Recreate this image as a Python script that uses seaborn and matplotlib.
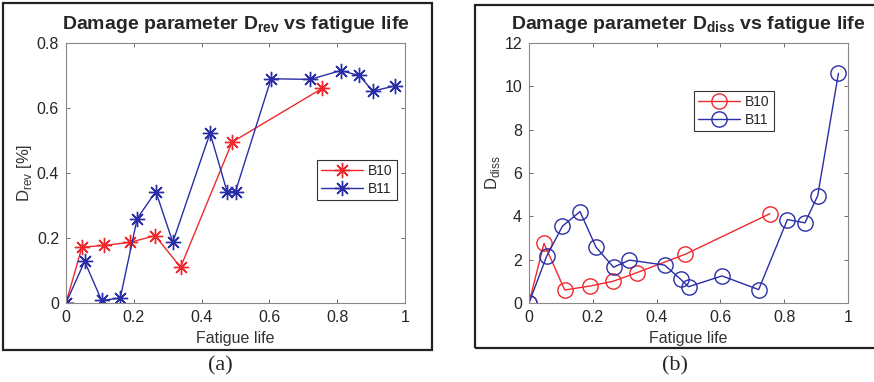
import matplotlib
matplotlib.use("Agg")
import matplotlib.pyplot as plt
import seaborn as sns
from matplotlib.patches import Rectangle
from matplotlib.ticker import FuncFormatter

# fatigue life fractions (same for both panels)
life_b10 = [0, 0.047, 0.112, 0.19, 0.263, 0.338, 0.49, 0.755]
life_b11 = [0, 0.055, 0.105, 0.16, 0.21, 0.265, 0.315, 0.425, 0.475, 0.5,
            0.605, 0.72, 0.81, 0.865, 0.905, 0.97]

d_rev_b10 = [0, 0.172, 0.177, 0.187, 0.207, 0.11, 0.495, 0.66]
d_rev_b11 = [0, 0.128, 0.008, 0.015, 0.26, 0.343, 0.187, 0.523, 0.343, 0.343,
             0.69, 0.688, 0.715, 0.70, 0.652, 0.668]

d_diss_b10 = [0, 2.75, 0.6, 0.78, 1.0, 1.4, 2.25, 4.12]
d_diss_b11 = [0, 2.15, 3.55, 4.22, 2.58, 1.65, 1.98, 1.75, 1.1, 0.75,
              1.25, 0.62, 3.85, 3.7, 4.95, 10.6]

RED = "#f0282c"
BLUE = "#2a2ea6"

sns.set_theme(style="white")
plt.rcParams["font.family"] = ["Liberation Sans", "DejaVu Sans"]
plt.rcParams["mathtext.fontset"] = "custom"
plt.rcParams["mathtext.rm"] = "Liberation Sans"
plt.rcParams["mathtext.bf"] = "Liberation Sans:bold"

fig = plt.figure(figsize=(8.74, 3.82), dpi=100)
ax1 = fig.add_axes([66 / 874, 79 / 382, 339 / 874, 260 / 382])
ax2 = fig.add_axes([529 / 874, 79 / 382, 319 / 874, 260 / 382])

star = (8, 2, 0)
sns.lineplot(x=life_b10, y=d_rev_b10, ax=ax1, color=RED, marker=star, markersize=11,
             markeredgecolor=RED, markeredgewidth=1.0, linewidth=1.0,
             sort=False, estimator=None, label="B10")
sns.lineplot(x=life_b11, y=d_rev_b11, ax=ax1, color=BLUE, marker=star, markersize=11,
             markeredgecolor=BLUE, markeredgewidth=1.0, linewidth=1.0,
             sort=False, estimator=None, label="B11")

sns.lineplot(x=life_b10, y=d_diss_b10, ax=ax2, color=RED, marker="o", markersize=11,
             markerfacecolor="none", markeredgecolor=RED, markeredgewidth=1.0,
             linewidth=1.0, sort=False, estimator=None, label="B10")
sns.lineplot(x=life_b11, y=d_diss_b11, ax=ax2, color=BLUE, marker="o", markersize=11,
             markerfacecolor="none", markeredgecolor=BLUE, markeredgewidth=1.0,
             linewidth=1.0, sort=False, estimator=None, label="B11")

fmt = FuncFormatter(lambda v, p: f"{v:g}")
for ax in (ax1, ax2):
    ax.set_xlim(0, 1)
    ax.set_xticks([0, 0.2, 0.4, 0.6, 0.8, 1])
    ax.xaxis.set_major_formatter(fmt)
    ax.yaxis.set_major_formatter(fmt)
    ax.tick_params(direction="in", length=3, width=0.6, colors="#555555",
                   labelcolor="#262626", labelsize=11.5, top=True, right=True,
                   bottom=True, left=True, pad=5)
    for s in ax.spines.values():
        s.set_color("#888888")
        s.set_linewidth(0.8)
    ax.set_xlabel("Fatigue life", fontsize=11.5, color="#333333", labelpad=4)

ax1.set_ylim(0, 0.8)
ax1.set_yticks([0, 0.2, 0.4, 0.6, 0.8])
ax2.set_ylim(0, 12)
ax2.set_yticks([0, 2, 4, 6, 8, 10, 12])

ax1.set_ylabel(r"D$_{\mathrm{rev}}$ [%]", fontsize=12, color="#333333", labelpad=2)
ax2.set_ylabel(r"D$_{\mathrm{diss}}$", fontsize=12, color="#333333", labelpad=2)

ax1.set_title(r"Damage parameter D$_{\mathbf{rev}}$ vs fatigue life",
              fontsize=14, fontweight="bold", pad=10)
ax2.set_title(r"Damage parameter D$_{\mathbf{diss}}$ vs fatigue life",
              fontsize=14, fontweight="bold", pad=10)

for ax, anchor in ((ax1, (0.74, 0.55)), (ax2, (0.517, 0.815))):
    leg = ax.legend(loc="upper left", bbox_to_anchor=anchor, fontsize=10,
                    fancybox=False, framealpha=1, edgecolor="#333333",
                    handlelength=3.0, borderpad=0.3, labelspacing=0.25,
                    handletextpad=0.4, borderaxespad=0)
    leg.get_frame().set_linewidth(0.8)

# outer frames around each panel
fig.patches.append(Rectangle((3 / 874, 32 / 382), 429 / 874, 347 / 382,
                             transform=fig.transFigure, fill=False,
                             edgecolor="#222222", linewidth=1.6))
fig.patches.append(Rectangle((475 / 874, 34 / 382), 410 / 874, 343 / 382,
                             transform=fig.transFigure, fill=False,
                             edgecolor="#222222", linewidth=1.6))

fig.text(220 / 874, 16 / 382, "(a)", ha="center", va="center",
         fontsize=16, family=["Liberation Serif", "DejaVu Serif"])
fig.text(675 / 874, 16 / 382, "(b)", ha="center", va="center",
         fontsize=16, family=["Liberation Serif", "DejaVu Serif"])

fig.savefig("out.png", dpi=100)
